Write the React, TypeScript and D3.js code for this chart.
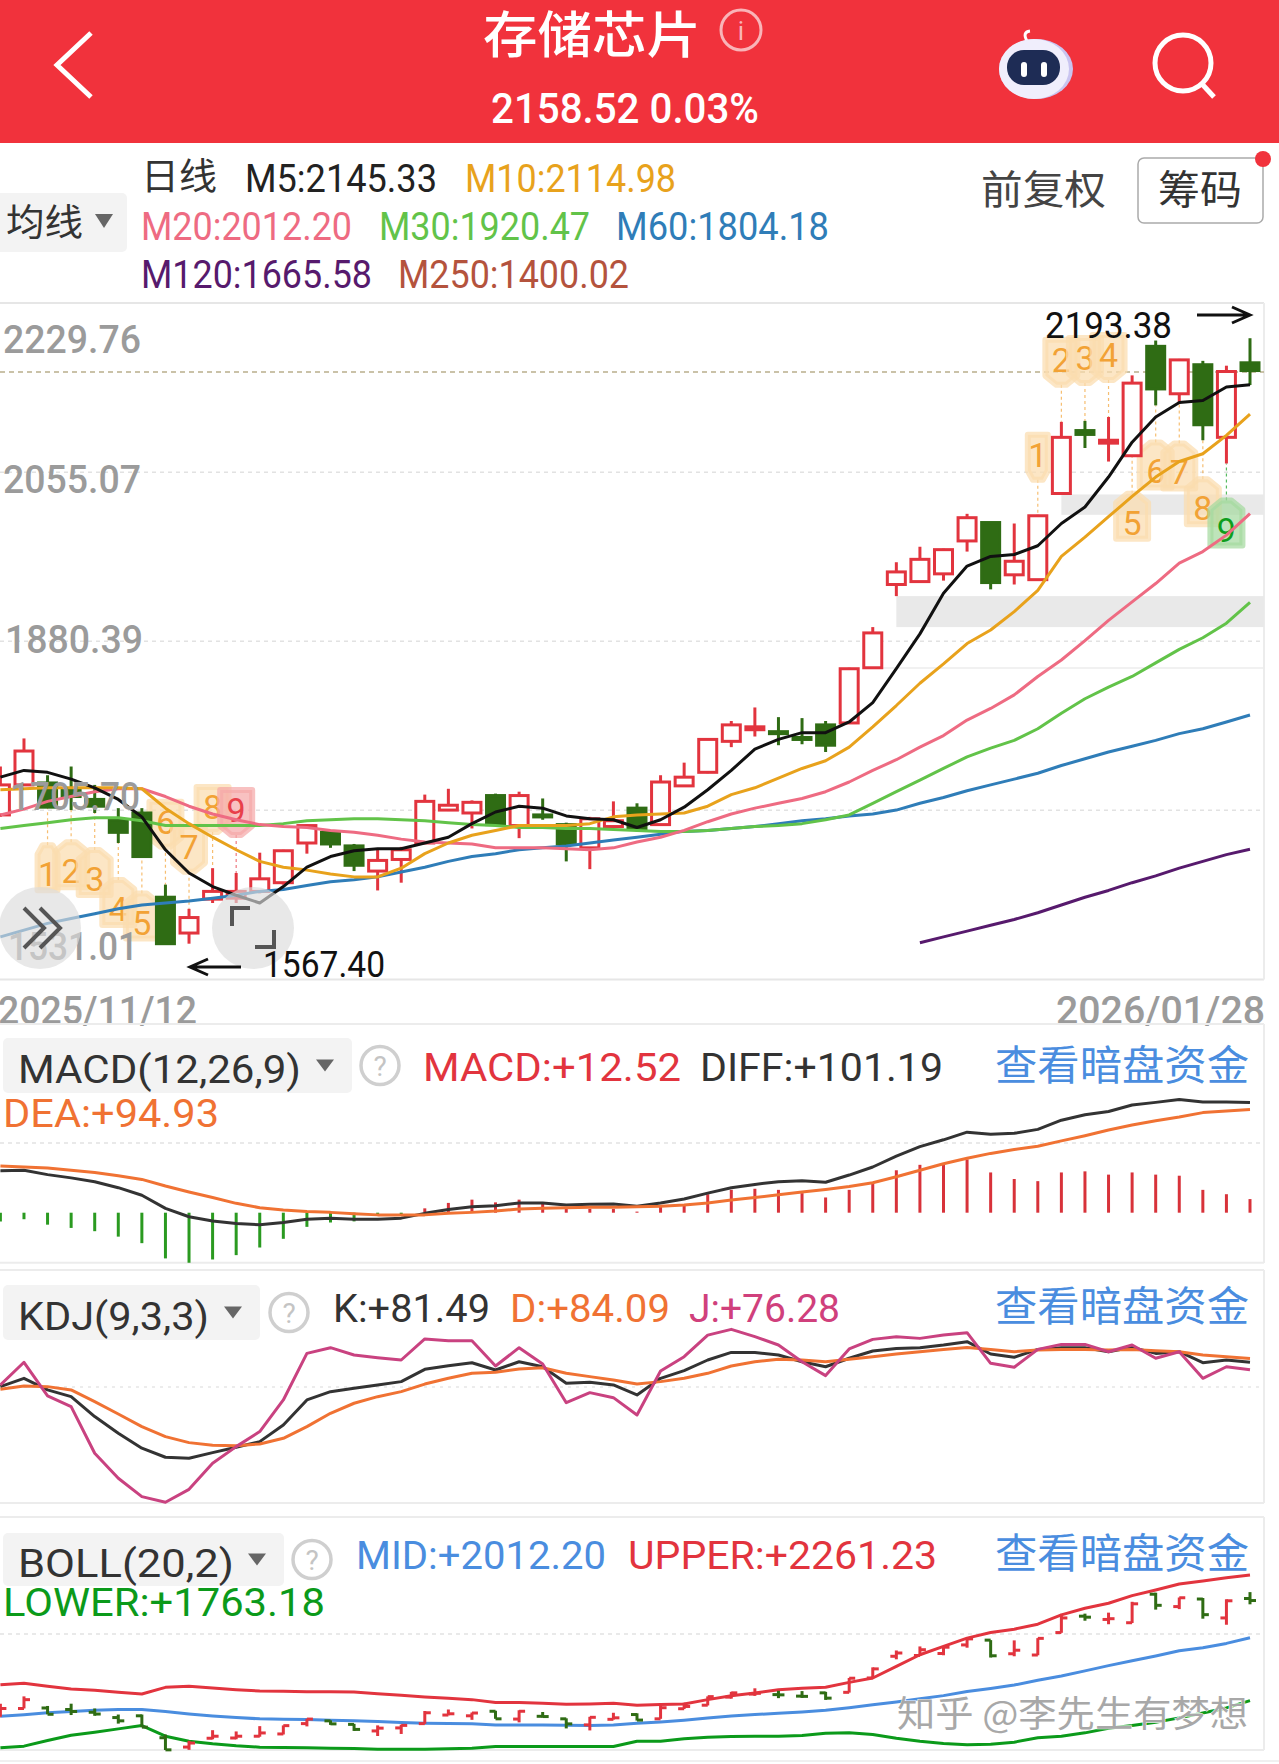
import * as d3 from 'd3'

// ─── Data ─────────────────────────────────────────────────────────────────────

const opens = [1701,1732,1734,1728,1717,1696,1703,1616,1579,1614,1615,1622,1631,1672,1683,1669,1643,1655,1672,1706,1703,1721,1690,1701,1691,1667,1689,1708,1691,1731,1745,1777,1789,1787,1781,1794,1796,1853,1939,1942,1950,1984,2003,1949,1944,2033,2098,2085,2072,2185,2136,2166,2091,2168]
const highs = [1751,1780,1742,1751,1732,1708,1708,1629,1604,1646,1641,1662,1665,1691,1685,1671,1665,1668,1722,1728,1716,1723,1725,1718,1693,1699,1715,1713,1742,1755,1780,1798,1812,1802,1801,1798,1853,1895,1962,1978,1976,2012,2003,2002,2011,2107,2108,2112,2155,2191,2172,2170,2165,2193.38]
const lows = [1699,1732,1709,1706,1703,1672,1658,1567.4,1568,1610,1610,1620,1629,1661,1667,1643,1623,1631,1671,1705,1687,1691,1677,1696,1653,1645,1688,1684,1691,1730,1744,1771,1782,1773,1774,1766,1795,1853,1927,1942,1943,1973,1934,1939,1943,2032,2080,2066,2071,2124,2126,2088,2064,2145]
const closes = [1732,1767,1709,1720,1710,1683,1658,1568,1595,1622,1622,1635,1664,1690,1671,1649,1654,1665,1715,1711,1714,1691,1721,1700,1671,1697,1695,1686,1735,1740,1779,1794,1792,1786,1780,1773,1852,1889,1952,1965,1975,2008,1941,1963,2010,2091,2094,2088,2147,2141,2171,2104,2159,2160]

const m5 = [1740,1747,1745,1738,1729,1717,1699,1665,1641,1627,1618,1610,1627,1647,1658,1664,1666,1666,1672,1678,1692,1704,1710,1708,1700,1697,1696,1688,1696,1709,1727,1747,1769,1779,1786,1786,1797,1817,1852,1888,1930,1958,1968,1970,1979,2002,2019,2050,2086,2112,2127,2129,2143,2145.33]
const m10 = [1727,1728,1729,1729,1729,1729,1728,1708,1692,1678,1665,1653,1647,1644,1640,1637,1637,1646,1661,1672,1680,1685,1690,1690,1690,1692,1699,1701,1702,1703,1710,1722,1729,1739,1749,1757,1771,1792,1814,1837,1857,1878,1892,1911,1933,1968,1988,2009,2030,2050,2066,2074,2093,2114.98]
const m20 = [1701,1707,1715,1720,1725,1728,1728,1720,1710,1702,1696,1691,1689,1688,1685,1683,1680,1676,1673,1672,1671,1667,1667,1667,1666,1665,1667,1673,1678,1685,1694,1702,1708,1713,1718,1725,1735,1747,1758,1771,1783,1799,1811,1825,1844,1861,1881,1902,1921,1940,1961,1973,1990,2012.2]
const m30 = [1687,1690,1693,1696,1698,1698,1695,1690,1690,1690,1690,1690,1692,1695,1696,1697,1697,1696,1695,1693,1691,1690,1688,1688,1687,1687,1686,1685,1684,1684,1685,1687,1689,1690,1692,1696,1701,1713,1725,1737,1749,1761,1770,1778,1790,1806,1821,1833,1844,1858,1872,1884,1899,1920.47]
const m60 = [1575,1582,1589,1594,1599,1604,1608,1610,1612,1615,1618,1622,1624,1628,1632,1634,1637,1642,1647,1653,1658,1661,1665,1667,1669,1672,1675,1678,1681,1684,1685,1687,1689,1692,1695,1697,1700,1702,1706,1713,1719,1726,1732,1738,1744,1752,1759,1766,1772,1778,1785,1790,1797,1804.18]
const m120 = [1569,1575,1581,1587,1593,1600,1608,1616,1623,1631,1638,1646,1653,1660,1665.58]
const m120Start = 39

const macdBars = [-8,-6,-11,-14,-17,-22,-28,-42,-46,-43,-39,-32,-24,-13,-9,-8,-2,-2,4,9,12,9.5,12,8,4,3.5,3.5,1,5.5,8,17,21,22,21,18,14,21,27,39,44,45,49,37,31,29,37,38,35,37,35,34,21,17,12.52]
const diffLine = [38.6,39,35,32,28.5,23,16,4,-3.7,-7.7,-10,-11,-9,-6,-5,-6,-6,-5,-0.6,3,5.5,6.4,9,9,7,7.7,8,6,9,12.6,18,23,26,28.5,29.4,28,34.6,42,52,60.7,67,74,72,73,76.6,85,90,93,99,101.4,104,101.7,101.7,101.19]
const deaLine = [43,42,41,39,37,34,30.6,24.5,19,14,8.6,4.6,2.5,1,0.3,-1,-2,-2,-2,-0.6,0.3,1.5,3.4,4,4.6,5,5,5.5,6,7,9,11.6,14,16.5,19,21.4,24,27.6,33,39,45,50,54.5,58,61,66,70.8,76,80.6,84.6,88,92,93.5,94.93]

const kLine = [64.5,70.3,62.2,57.5,43.6,31.9,21.5,15.2,14.5,18.4,22.2,26.1,37.7,55.2,61,63.3,65.7,68,76.6,79.1,81.2,76.1,81.9,78.4,66.8,67.5,65.7,58.7,70.3,75.7,83.1,88.4,88.4,86.6,81.9,78.4,84.3,89.4,91.2,91.7,93.6,95.9,87.3,85,90.5,91.7,91.7,88.9,91.9,87.7,88.9,81.2,83.1,81.49]
const dLine = [62.6,65,64.5,62.2,54,45.4,36.6,29.6,25.4,23.6,23.3,24.5,28.4,36.6,45.9,52.9,57.5,61,66.3,70.3,73.8,74.5,76.8,77.7,73.8,71.5,69.2,66.3,68,70.3,73.8,78.9,81.9,83.6,83.1,81.9,83.6,85.4,87.3,88.9,90.5,91.9,90.5,88.9,90.1,90.5,90.5,90.1,90.5,89.6,88.9,86.6,85.4,84.09]
const jLine = [65.7,81.5,58,50.5,18,0.5,-12.3,-16.2,-7.2,11,22.6,33.1,55.2,87.7,91.7,86.6,84.7,83.1,97.8,96.6,96.6,78.9,91.7,80.3,53.3,60.3,56.8,44.7,75.4,85.4,100.5,104.5,99.4,93.6,81.9,72.2,90.8,97.5,99.4,98.2,100.5,102.2,80.8,78,90.5,94,94,88.9,93.6,84.3,88.9,70.3,78.4,76.28]

const bollUpper = [1826.4,1831.7,1819.8,1809.3,1804,1796.1,1789.5,1815.9,1819.8,1813.2,1806.6,1801.4,1800,1798.7,1798.7,1797.4,1790.8,1784.2,1777.7,1772.4,1767.1,1755.3,1755.3,1752.6,1748.7,1750,1752.6,1744.7,1747.4,1750,1767.1,1782.9,1793.5,1806.6,1811.9,1815.9,1835.6,1852.8,1898.9,1945,1978,2010.8,2033.3,2046.4,2066.2,2103.1,2129.4,2149.2,2179.5,2201.9,2225.6,2237.5,2250.6,2261.23]
const bollLower = [1576.1,1582.7,1605.1,1626.2,1638,1651.2,1664.4,1622.2,1602.4,1591.9,1584,1578.7,1577.4,1576.1,1574.8,1573.5,1570.8,1570.8,1570.8,1572.1,1574.8,1581.4,1581.4,1581.4,1581.4,1581.4,1581.4,1602.4,1602.4,1611.7,1618.3,1620.9,1622.2,1622.2,1624.8,1634,1635.4,1628.8,1614.3,1602.4,1593.2,1587.9,1590.6,1598.5,1615.6,1622.2,1635.4,1653.8,1664.4,1677.5,1694.7,1714.4,1734.2,1763.18]

// price gaps shaded to the right edge: [first candle after gap, lower, upper]
const gaps = [[38, 1895, 1927], [45, 2011, 2032]]

// nine-turn badges: [candle, digit, badge centre price, tip side, tone]
const nineTurn: [number, string, number, string, string][] = [
  [2, '1', 1646, 'up', 'o'], [3, '2', 1649, 'up', 'o'], [4, '3', 1641, 'up', 'o'],
  [5, '4', 1610, 'up', 'o'], [6, '5', 1596, 'up', 'o'], [7, '6', 1692, 'down', 'o'],
  [8, '7', 1666, 'down', 'o'], [9, '8', 1707, 'down', 'o'], [10, '9', 1704, 'down', 'r'],
  [44, '1', 2071, 'down', 'o'], [45, '2', 2169, 'down', 'o'], [46, '3', 2171, 'down', 'o'],
  [47, '4', 2174, 'down', 'o'], [48, '5', 2009, 'up', 'o'], [49, '6', 2062, 'up', 'o'],
  [50, '7', 2061, 'up', 'o'], [51, '8', 2024, 'up', 'o'], [52, '9', 2002, 'up', 'g'],
]

const priceTicks = [2229.76, 2055.07, 1880.39, 1705.7, 1531.01]
const tickLabels = ['2229.76', '2055.07', '1880.39', '1705.70', '1531.01']
const tickBaselines = [353, 493, 653, 810, 960]
const lastPrice = 2158.52

// ─── Constants ────────────────────────────────────────────────────────────────

const W = 1279
const H = 1764
const RIGHT = 1264
const RED = '#e2343e'
const DARK_GREEN = '#2f6c14'
const LATIN = 'Roboto, "Noto Sans CJK SC", sans-serif'
const CJK = '"Noto Sans CJK SC", sans-serif'
const TONES: Record<string, { fill: string; text: string }> = {
  o: { fill: '#fbdcae', text: '#f2a235' },
  r: { fill: '#f5a9a9', text: '#e8404a' },
  g: { fill: '#a5d9a0', text: '#0e9e1c' },
}

const x = d3.scaleLinear().domain([0, 53]).range([0.4, 1250])
const yMain = d3.scaleLinear().domain([1531.01, 2229.76]).range([979.5, 303])
const yMacd = d3.scaleLinear().domain([0, 100]).range([1212.7, 1103.9])
const yKdj = d3.scaleLinear().domain([0, 100]).range([1479, 1335.8])
const yBoll = d3.scaleLinear().domain([1567.4, 2261.23]).range([1750, 1575])

const pathOf = (vals: number[], y: d3.ScaleLinear<number, number>, start = 0) =>
  d3.line<number>().x((_, i) => x(i + start)).y((d) => y(d)).curve(d3.curveLinear)(vals) ?? ''

// ─── Small pieces ─────────────────────────────────────────────────────────────

function T({ x0, x1, y, size, fill, font = LATIN, weight = 400, children }: any) {
  return (
    <text x={x0 - 2} y={y} fontSize={size} fill={fill} fontFamily={font} fontWeight={weight}
      textLength={x1 - x0 + 3} lengthAdjust="spacingAndGlyphs">
      {children}
    </text>
  )
}

function Line({ d, color, w = 3 }: { d: string; color: string; w?: number }) {
  return <path d={d} fill="none" stroke={color} strokeWidth={w} strokeLinejoin="round" />
}

function Selector({ x0, x1, y0, y1, tx0, tx1, base, triX, helpX, label }: any) {
  const cy = (y0 + y1) / 2
  return (
    <g>
      <rect x={x0} y={y0} width={x1 - x0} height={y1 - y0} rx={5} fill="#f3f3f3" />
      <T x0={tx0} x1={tx1} y={base} size={39} fill="#333">{label}</T>
      <path d={`M${triX - 9},${cy - 6}L${triX + 9},${cy - 6}L${triX},${cy + 6}Z`} fill="#666" />
      <circle cx={helpX} cy={cy} r={19} fill="none" stroke="#cfcfcf" strokeWidth={3.5} />
      <text x={helpX} y={cy + 10} textAnchor="middle" fontSize={28} fill="#c4c4c4" fontFamily={LATIN}>?</text>
    </g>
  )
}

function Link({ base }: { base: number }) {
  return <T x0={997} x1={1248} y={base} size={41} fill="#4a8ddf" font={CJK}>查看暗盘资金</T>
}

function Badge({ i, digit, price, tip, tone }: { i: number; digit: string; price: number; tip: string; tone: string }) {
  const cx = x(i)
  const up = tip === 'up'
  const cy = yMain(price) + (up ? 4 : -4)
  const c = TONES[tone]
  const bw = digit === '1' ? 10 : 16
  const bh = 18
  const tipY = up ? cy - bh - 9 : cy + bh + 9
  const neck = 5
  const shape = up
    ? `M${cx - neck},${tipY}H${cx + neck}L${cx + bw},${cy - bh}V${cy + bh}H${cx - bw}V${cy - bh}Z`
    : `M${cx - neck},${tipY}H${cx + neck}L${cx + bw},${cy + bh}V${cy - bh}H${cx - bw}V${cy + bh}Z`
  const end = up ? yMain(lows[i]) : yMain(highs[i])
  return (
    <g>
      <line x1={cx} x2={cx} y1={tipY} y2={end} stroke={c.text} strokeOpacity={0.7} strokeWidth={1.2} strokeDasharray="3,3" />
      <path d={shape} fill={c.fill} fillOpacity={0.72} stroke={c.fill} strokeOpacity={0.72} strokeWidth={6} strokeLinejoin="round" />
      <text x={cx} y={cy + 14} textAnchor="middle" fontSize={34} fill={c.text} fontFamily={LATIN}>{digit}</text>
    </g>
  )
}

// ─── Chart ────────────────────────────────────────────────────────────────────

export default function App() {
  const bodyW = 18
  return (
    <svg width={W} height={H} viewBox={`0 0 ${W} ${H}`}
      style={{ position: 'absolute', left: 0, top: 0, background: '#fff', display: 'block' }}>
      {/* Header */}
      <rect x={0} y={0} width={W} height={143} fill="#f1323c" />
      <path d="M91,33L57,65L91,97" fill="none" stroke="#fff" strokeWidth={5} />
      <T x0={485} x1={700} y={53} size={50} fill="#fff" font={CJK} weight={500}>存储芯片</T>
      <circle cx={741} cy={30} r={20} fill="none" stroke="#f9b4b8" strokeWidth={3} />
      <text x={741} y={40} textAnchor="middle" fontSize={26} fill="#f9b4b8" fontFamily={LATIN}>i</text>
      <T x0={493} x1={758} y={123} size={42} fill="#fff" weight={500}>2158.52 0.03%</T>
      {/* assistant icon */}
      <g>
        <path d="M1027,41Q1022,32 1030,31" fill="none" stroke="#fff" strokeWidth={3} />
        <ellipse cx={1036} cy={69} rx={37} ry={30} fill="#c9c4f0" />
        <ellipse cx={1034} cy={69} rx={35} ry={30} fill="#f0eefc" />
        <rect x={1007} y={50} width={53} height={35} rx={17} fill="#1e2c55" />
        <rect x={1021} y={62} width={6} height={15} rx={3} fill="#fff" />
        <rect x={1041} y={62} width={6} height={15} rx={3} fill="#fff" />
      </g>
      <circle cx={1183} cy={63} r={28} fill="none" stroke="#fff" strokeWidth={5} />
      <line x1={1202} y1={84} x2={1214} y2={97} stroke="#fff" strokeWidth={5} />

      {/* Legend row */}
      <T x0={143} x1={216} y={190} size={37} fill="#333" font={CJK}>日线</T>
      <T x0={247} x1={436} y={192} size={39} fill="#222">M5:2145.33</T>
      <T x0={467} x1={675} y={192} size={39} fill="#e8a21c">M10:2114.98</T>
      <T x0={143} x1={351} y={240} size={39} fill="#ee6b82">M20:2012.20</T>
      <T x0={381} x1={589} y={240} size={39} fill="#62c349">M30:1920.47</T>
      <T x0={618} x1={828} y={240} size={39} fill="#2f7db8">M60:1804.18</T>
      <T x0={143} x1={371} y={288} size={39} fill="#571a6d">M120:1665.58</T>
      <T x0={400} x1={628} y={288} size={39} fill="#b4533d">M250:1400.02</T>
      <rect x={-5} y={193} width={132} height={59} rx={5} fill="#f3f3f3" />
      <T x0={8} x1={82} y={236} size={37} fill="#333" font={CJK}>均线</T>
      <path d="M95,214L113,214L104,228Z" fill="#666" />
      <T x0={983} x1={1105} y={204} size={40} fill="#444" font={CJK}>前复权</T>
      <rect x={1138} y={158} width={125} height={65} rx={6} fill="#fff" stroke="#aaa" strokeWidth={1.5} />
      <T x0={1160} x1={1241} y={204} size={40} fill="#333" font={CJK}>筹码</T>
      <circle cx={1263} cy={159} r={8} fill="#f1323c" />

      {/* Main price panel */}
      <line x1={0} x2={RIGHT} y1={303} y2={303} stroke="#e6e6e6" strokeWidth={2} />
      <line x1={0} x2={RIGHT} y1={979.5} y2={979.5} stroke="#e6e6e6" strokeWidth={2} />
      <line x1={RIGHT} x2={RIGHT} y1={303} y2={979.5} stroke="#ececec" strokeWidth={2} />
      <line x1={RIGHT} x2={RIGHT} y1={1024} y2={1263} stroke="#ececec" strokeWidth={2} />
      <line x1={RIGHT} x2={RIGHT} y1={1270} y2={1503} stroke="#ececec" strokeWidth={2} />
      <line x1={RIGHT} x2={RIGHT} y1={1517} y2={1750} stroke="#ececec" strokeWidth={2} />
      {priceTicks.slice(1, 4).map((p) => (
        <line key={p} x1={0} x2={RIGHT} y1={yMain(p)} y2={yMain(p)} stroke="#e2e2e2" strokeWidth={1.5} strokeDasharray="4,4" />
      ))}
      <line x1={883} x2={RIGHT} y1={668} y2={668} stroke="#ececec" strokeWidth={1.5} />
      <line x1={0} x2={RIGHT} y1={yMain(lastPrice)} y2={yMain(lastPrice)} stroke="#b9af8c" strokeWidth={1.5} strokeDasharray="5,4" />
      {gaps.map(([i, lo, hi]) => (
        <rect key={i} x={x(i)} y={yMain(hi)} width={RIGHT - x(i)} height={yMain(lo) - yMain(hi)} fill="#e9e9e9" />
      ))}
      {nineTurn.map(([i, digit, price, tip, tone]) => (
        <Badge key={`${i}-${digit}`} i={i} digit={digit} price={price} tip={tip} tone={tone} />
      ))}
      {opens.map((o, i) => {
        const c = closes[i]
        const up = c >= o
        const color = up ? RED : DARK_GREEN
        const top = yMain(Math.max(o, c))
        const bot = yMain(Math.min(o, c))
        return (
          <g key={i}>
            <line x1={x(i)} x2={x(i)} y1={yMain(highs[i])} y2={yMain(lows[i])} stroke={color} strokeWidth={3} />
            <rect x={x(i) - bodyW / 2} y={top} width={bodyW} height={Math.max(bot - top, 2)}
              fill={up ? '#fff' : color} stroke={color} strokeWidth={3} />
          </g>
        )
      })}
      <Line d={pathOf(m60, yMain)} color="#2f7db8" />
      <Line d={pathOf(m30, yMain)} color="#62c349" />
      <Line d={pathOf(m20, yMain)} color="#ee6b82" />
      <Line d={pathOf(m10, yMain)} color="#e8a21c" />
      <Line d={pathOf(m5, yMain)} color="#111" />
      <Line d={pathOf(m120, yMain, m120Start)} color="#571a6d" />
      {tickLabels.map((t, k) => (
        <text key={t} x={k === 3 ? 10 : k === 4 ? 8 : k === 2 ? 5 : 3} y={tickBaselines[k]} fontSize={38} fill="#9b9b9b"
          fontFamily={LATIN} fontWeight={500} textLength={k === 3 || k === 4 ? 130 : 138} lengthAdjust="spacingAndGlyphs">{t}</text>
      ))}
      {/* Overlay buttons */}
      <circle cx={40} cy={928} r={41} fill="#dcdcdc" fillOpacity={0.65} />
      <path d="M24,908L44,928L24,948M40,908L60,928L40,948" fill="none" stroke="#555" strokeWidth={4} />
      <circle cx={253} cy={928} r={41} fill="#dcdcdc" fillOpacity={0.65} />
      <path d="M232,926V908H250M274,930V947H255" fill="none" stroke="#555" strokeWidth={4} />
      {/* High / low flags */}
      <T x0={1047} x1={1171} y={338} size={36} fill="#111">2193.38</T>
      <path d="M1197,315H1249M1232,307L1250,315L1232,323" fill="none" stroke="#111" strokeWidth={3} />
      <T x0={265} x1={384} y={977} size={36} fill="#111">1567.40</T>
      <path d="M241,967H191M208,959L190,967L208,975" fill="none" stroke="#111" strokeWidth={3} />
      <T x0={0} x1={196} y={1024} size={38} fill="#9b9b9b" weight={500}>2025/11/12</T>
      <T x0={1058} x1={1264} y={1024} size={38} fill="#9b9b9b" weight={500}>2026/01/28</T>

      {/* MACD panel */}
      <line x1={0} x2={RIGHT} y1={1024} y2={1024} stroke="#ececec" strokeWidth={2} />
      <line x1={0} x2={RIGHT} y1={1262.7} y2={1262.7} stroke="#ececec" strokeWidth={2} />
      <line x1={0} x2={RIGHT} y1={1143} y2={1143} stroke="#e2e2e2" strokeWidth={1.5} strokeDasharray="4,4" />
      <Selector x0={3} x1={352} y0={1038} y1={1093} tx0={20} tx1={300} base={1083} triX={325} helpX={380} label="MACD(12,26,9)" />
      <T x0={425} x1={680} y={1081} size={39} fill="#e2343e">MACD:+12.52</T>
      <T x0={702} x1={942} y={1081} size={39} fill="#333">DIFF:+101.19</T>
      <Link base={1080} />
      <T x0={5} x1={218} y={1127} size={39} fill="#f07233">DEA:+94.93</T>
      {macdBars.map((v, i) => (
        <line key={i} x1={x(i)} x2={x(i)} y1={yMacd(0)} y2={yMacd(v)} stroke={v >= 0 ? '#d8323a' : '#2a9a20'} strokeWidth={3} />
      ))}
      <Line d={pathOf(diffLine, yMacd)} color="#333" />
      <Line d={pathOf(deaLine, yMacd)} color="#f07233" />

      {/* KDJ panel */}
      <line x1={0} x2={RIGHT} y1={1270} y2={1270} stroke="#ececec" strokeWidth={2} />
      <line x1={0} x2={RIGHT} y1={1503} y2={1503} stroke="#ececec" strokeWidth={2} />
      <line x1={0} x2={RIGHT} y1={1387} y2={1387} stroke="#e6e6e6" strokeWidth={1.5} strokeDasharray="3,5" />
      <Selector x0={3} x1={260} y0={1285} y1={1340} tx0={20} tx1={208} base={1330} triX={233} helpX={289} label="KDJ(9,3,3)" />
      <T x0={335} x1={489} y={1322} size={39} fill="#333">K:+81.49</T>
      <T x0={512} x1={669} y={1322} size={39} fill="#f07233">D:+84.09</T>
      <T x0={691} x1={839} y={1322} size={39} fill="#d0407c">J:+76.28</T>
      <Link base={1321} />
      <Line d={pathOf(kLine, yKdj)} color="#333" />
      <Line d={pathOf(dLine, yKdj)} color="#f07233" />
      <Line d={pathOf(jLine, yKdj)} color="#c94280" />

      {/* BOLL panel */}
      <line x1={0} x2={RIGHT} y1={1517} y2={1517} stroke="#ececec" strokeWidth={2} />
      <line x1={0} x2={RIGHT} y1={1750} y2={1750} stroke="#ececec" strokeWidth={2} />
      <line x1={0} x2={W} y1={1761} y2={1761} stroke="#f0f0f0" strokeWidth={2} />
      <line x1={0} x2={RIGHT} y1={1634} y2={1634} stroke="#e2e2e2" strokeWidth={1.5} strokeDasharray="4,4" />
      <Selector x0={3} x1={284} y0={1533} y1={1586} tx0={20} tx1={233} base={1577} triX={257} helpX={312} label="BOLL(20,2)" />
      <T x0={358} x1={605} y={1569} size={39} fill="#4a8ddf">MID:+2012.20</T>
      <T x0={630} x1={936} y={1569} size={39} fill="#e2343e">UPPER:+2261.23</T>
      <Link base={1568} />
      <T x0={5} x1={324} y={1616} size={39} fill="#0b9a1a">LOWER:+1763.18</T>
      <Line d={pathOf(m20, yBoll)} color="#4a8ddf" />
      <Line d={pathOf(bollUpper, yBoll)} color="#e2343e" />
      <Line d={pathOf(bollLower, yBoll)} color="#0b9a1a" />
      {opens.map((o, i) => {
        const color = closes[i] >= o ? RED : DARK_GREEN
        return (
          <g key={i} stroke={color} strokeWidth={3}>
            <line x1={x(i)} x2={x(i)} y1={yBoll(highs[i])} y2={yBoll(lows[i])} />
            <line x1={x(i) - 6} x2={x(i)} y1={yBoll(o)} y2={yBoll(o)} />
            <line x1={x(i)} x2={x(i) + 6} y1={yBoll(closes[i])} y2={yBoll(closes[i])} />
          </g>
        )
      })}
      <text x={897} y={1727} fontSize={36} fill="#a8a8a8" stroke="#fff" strokeWidth={1} paintOrder="stroke"
        fontFamily={CJK} textLength={351} lengthAdjust="spacingAndGlyphs">知乎 @李先生有梦想</text>
    </svg>
  )
}
